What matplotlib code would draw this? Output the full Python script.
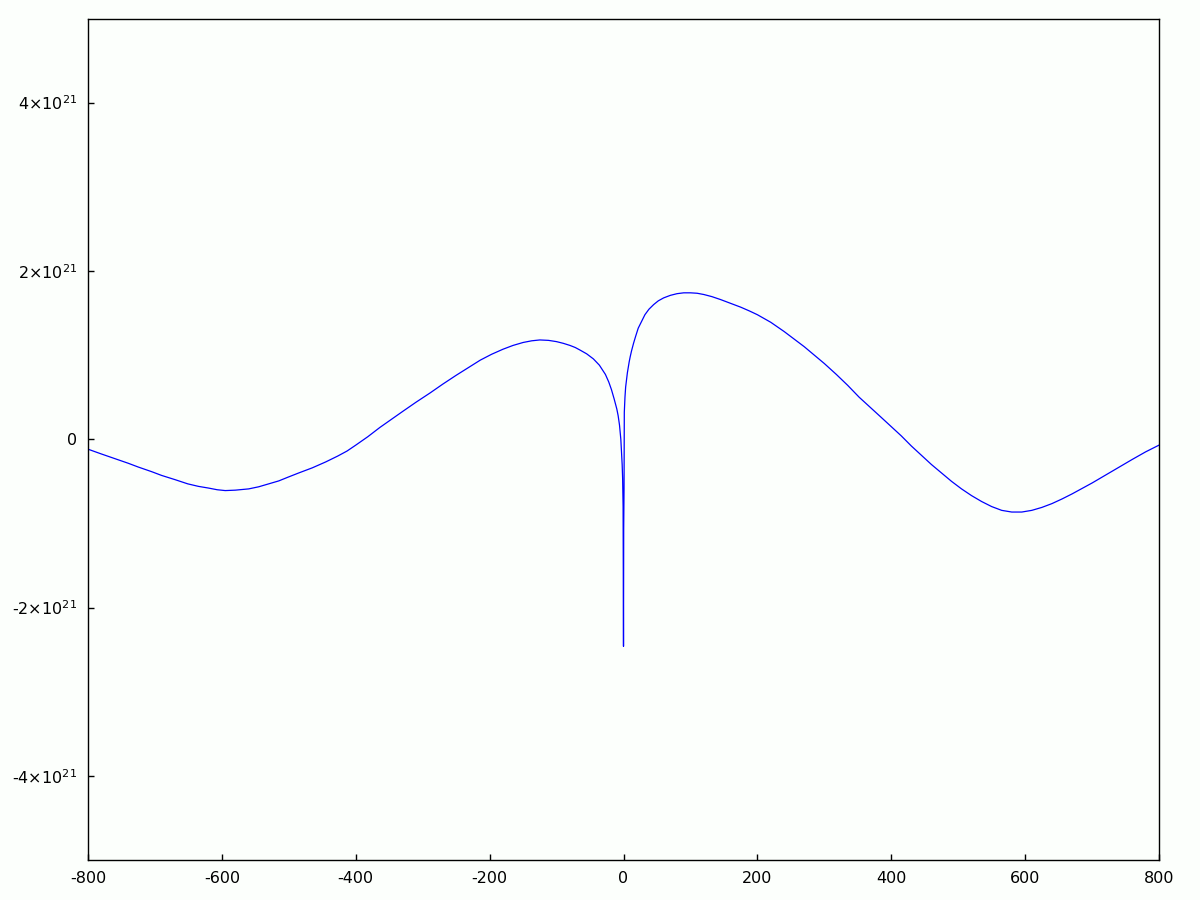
import matplotlib
matplotlib.use("Agg")
import matplotlib.pyplot as plt

# values (y in units of 1e21)
x_vals = [-800, -780, -760, -740, -725, -705, -690, -670, -651, -635, -620,
          -607, -595, -580, -560, -545, -530, -515, -501, -485, -465, -445,
          -427, -413, -400, -382, -364, -347, -330, -310, -289, -270, -250,
          -232, -214, -197, -180, -165, -150, -137, -125, -112, -100, -90,
          -80, -72, -65, -55, -45, -36, -27, -22, -18, -14, -10, -8, -6, -4,
          -2, -1.3, -0.6, 0,
          0.3, 0.8, 1.2, 1.7, 2.2, 3.2, 4.6, 5.8, 7, 8.5, 10, 12, 15, 18, 22,
          27, 32, 38, 45, 52, 60, 70, 80, 90, 100, 110, 120, 132, 145, 160,
          175, 188, 200, 220, 240, 255, 270, 285, 300, 318, 335, 352, 370,
          385, 400, 415, 430, 445, 460, 475, 490, 505, 520, 535, 550, 565,
          580, 595, 610, 625, 640, 655, 670, 685, 700, 715, 730, 745, 760,
          780, 800]
y_vals = [-0.118, -0.175, -0.23, -0.285, -0.33, -0.385, -0.43, -0.48, -0.53,
          -0.56, -0.58, -0.60, -0.61, -0.605, -0.59, -0.565, -0.53, -0.495,
          -0.45, -0.40, -0.34, -0.27, -0.20, -0.14, -0.07, 0.03, 0.14, 0.235,
          0.33, 0.44, 0.55, 0.655, 0.76, 0.85, 0.94, 1.01, 1.07, 1.115, 1.15,
          1.17, 1.18, 1.175, 1.16, 1.14, 1.115, 1.09, 1.06, 1.015, 0.955, 0.88,
          0.77, 0.68, 0.59, 0.48, 0.36, 0.28, 0.17, 0.0,
          -0.3, -0.47, -0.8, -2.46,
          -1.07, -0.6, 0.32, 0.42, 0.5, 0.62, 0.71, 0.79, 0.85, 0.92, 0.98,
          1.05, 1.14, 1.22, 1.32, 1.40, 1.48, 1.545, 1.60, 1.645, 1.68, 1.71,
          1.73, 1.74, 1.74, 1.735, 1.72, 1.695, 1.66, 1.615, 1.57, 1.525,
          1.48, 1.39, 1.28, 1.19, 1.10, 1.00, 0.90, 0.77, 0.64, 0.50, 0.37,
          0.26, 0.15, 0.04, -0.08, -0.19, -0.30, -0.40, -0.50, -0.59, -0.67,
          -0.74, -0.80, -0.845, -0.865, -0.865, -0.845, -0.81, -0.765, -0.71,
          -0.65, -0.585, -0.52, -0.45, -0.38, -0.31, -0.24, -0.15, -0.07]

x_ticks = [-800, -600, -400, -200, 0, 200, 400, 600, 800]
y_ticks = [-4, -2, 0, 2, 4]
y_labels = ["-" + r"$\mathregular{4{\times}10^{21}}$",
            "-" + r"$\mathregular{2{\times}10^{21}}$",
            "0",
            r"$\mathregular{2{\times}10^{21}}$",
            r"$\mathregular{4{\times}10^{21}}$"]

plt.rcParams["axes.unicode_minus"] = False

bg = "#fcfffc"
fig = plt.figure(figsize=(12, 9), dpi=100, facecolor=bg)
ax = fig.add_axes([88 / 1200, 40 / 900, 1071 / 1200, 841.5 / 900])
ax.set_facecolor(bg)

ax.plot(x_vals, y_vals, color="#0000ff", linewidth=0.9)

ax.set_xlim(-800, 800)
ax.set_ylim(-5, 5)
ax.set_xticks(x_ticks)
ax.set_xticklabels([str(t) for t in x_ticks])
ax.set_yticks(y_ticks)
ax.set_yticklabels(y_labels)
ax.tick_params(direction="in", length=4, width=1, labelsize=11.5, pad=8,
               top=False, right=False)
for s in ax.spines.values():
    s.set_linewidth(1)
    s.set_color("black")

fig.savefig("out.png", dpi=100, facecolor=bg)
